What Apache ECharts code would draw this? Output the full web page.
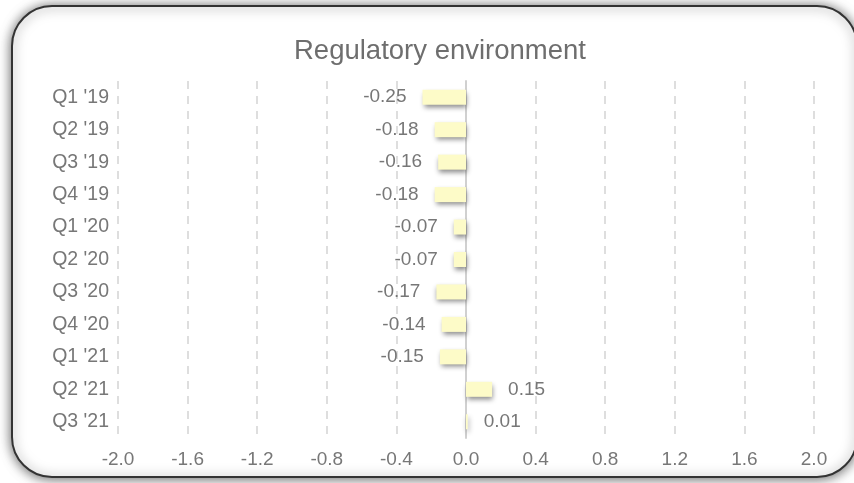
<!DOCTYPE html>
<html>
<head>
<meta charset="utf-8">
<title>Regulatory environment</title>
<script src="https://cdn.jsdelivr.net/npm/echarts@6/dist/echarts.min.js"></script>
<style>
  html, body { margin: 0; padding: 0; background: #ffffff; }
  #chart { width: 854px; height: 483px; }
</style>
</head>
<body>
<div id="chart"></div>
<script>
// Quarterly index values for the regulatory environment
const quarters = ["Q1 '19", "Q2 '19", "Q3 '19", "Q4 '19", "Q1 '20", "Q2 '20",
                  "Q3 '20", "Q4 '20", "Q1 '21", "Q2 '21", "Q3 '21"];
const values = [-0.25, -0.18, -0.16, -0.18, -0.07, -0.07, -0.17, -0.14, -0.15, 0.15, 0.01];
const axisMin = -2.0;
const axisMax = 2.0;
const axisStep = 0.4;

const FONT = '"Liberation Sans", Arial, Helvetica, sans-serif';
const chart = echarts.init(document.getElementById('chart'), null, { renderer: 'canvas' });

chart.setOption({
  backgroundColor: '#ffffff',
  animation: false,
  graphic: [{
    type: 'rect',
    z: -100,
    silent: true,
    shape: { x: 12, y: 6, width: 845, height: 471, r: 40 },
    style: {
      fill: '#ffffff',
      stroke: '#333333',
      lineWidth: 2,
      shadowBlur: 12,
      shadowColor: 'rgba(0,0,0,0.6)',
      shadowOffsetX: 0,
      shadowOffsetY: 1
    }
  }],
  title: {
    text: 'Regulatory environment',
    left: 289,
    top: 32,
    textStyle: { fontFamily: FONT, fontSize: 27.5, fontWeight: 'normal', color: '#6e6e6e' }
  },
  grid: { left: 118, right: 40, top: 81, bottom: 45, containLabel: false },
  xAxis: {
    type: 'value',
    min: axisMin,
    max: axisMax,
    interval: axisStep,
    axisLine: { show: false },
    axisTick: { show: false },
    axisLabel: {
      fontFamily: FONT, fontSize: 19, color: '#777777', margin: 12,
      formatter: v => v.toFixed(1)
    },
    splitLine: { show: true, lineStyle: { color: '#dedede', type: [8, 7], width: 2 } }
  },
  yAxis: {
    type: 'category',
    data: quarters,
    inverse: true,
    axisLine: { show: true, onZero: true, lineStyle: { color: '#d0d0d0', width: 2 } },
    axisTick: { show: false },
    axisLabel: { fontFamily: FONT, fontSize: 19.5, color: '#777777', margin: 9 },
    splitLine: { show: false }
  },
  series: [{
    type: 'bar',
    data: values.map(v => ({
      value: v,
      label: { position: v < 0 ? 'left' : 'right' }
    })),
    barWidth: 15,
    itemStyle: {
      color: '#fdfbc8',
      shadowColor: 'rgba(0,0,0,0.45)',
      shadowBlur: 5,
      shadowOffsetX: 1,
      shadowOffsetY: 3
    },
    label: {
      show: true,
      distance: 16,
      fontFamily: FONT,
      fontSize: 19,
      color: '#777777',
      formatter: p => p.value.toFixed(2)
    }
  }]
});
</script>
</body>
</html>
